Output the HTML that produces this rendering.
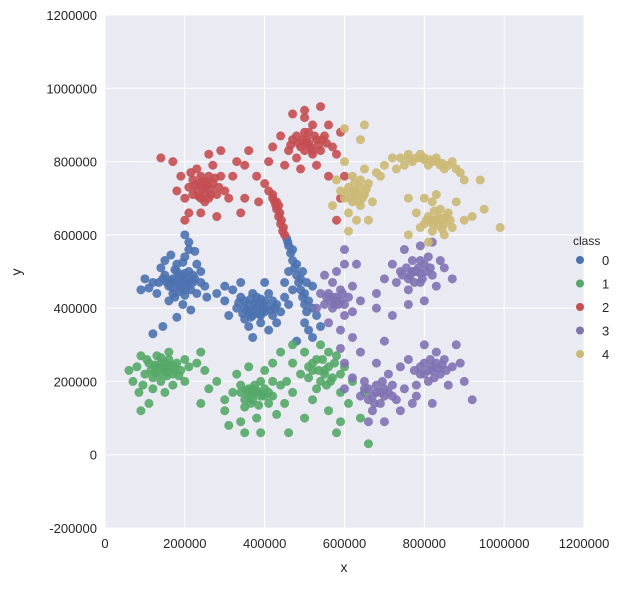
<!DOCTYPE html>
<html><head><meta charset="utf-8"><style>
body{margin:0;background:#fff;font-family:"Liberation Sans",sans-serif;}
svg text{font-family:"Liberation Sans",sans-serif;fill:#262626;}
</style></head><body>
<svg id="chart" width="623" height="585" xmlns="http://www.w3.org/2000/svg">
<rect x="105" y="15" width="479" height="513" fill="#EAEAF2"/>
<g id="grid"></g><g id="pts"></g><g id="ticks"></g>
<text x="344" y="572" font-size="14" text-anchor="middle">x</text>
<text x="21" y="272" font-size="14" text-anchor="middle" transform="rotate(-90 21 272)">y</text>
<g id="legend"><text x="573" y="245" font-size="12">class</text></g>
</svg>
<script>
const xTicks=[0,200000,400000,600000,800000,1000000,1200000];
const yTicks=[-200000,0,200000,400000,600000,800000,1000000,1200000];
const classes=["0","1","2","3","4"];
const colors=["#4C72B0","#55A868","#C44E52","#8172B2","#CCB974"];
// points in thousands
const class0=[190,470,170,480,200,450,210,500,180,520,160,460,220,470,150,490,230,440,200,540,175,430,140,510,240,500,195,410,120,470,210,560,165,545,250,460,185,490,205,480,230,520,160,420,130,440,100,480,90,450,255,430,215,395,180,375,145,350,120,330,200,600,210,580,175,505,195,525,220,490,170,455,185,445,240,470,150,530,225,555,
380,400,360,410,400,390,370,380,420,420,340,430,390,360,350,370,410,440,330,400,440,390,300,420,320,450,370,440,400,420,430,360,360,350,380,430,390,380,350,400,420,380,460,410,310,380,340,470,400,470,450,430,370,320,410,340,300,460,280,440,355,395,385,415,395,405,365,425,
455,590,460,570,465,550,470,530,475,510,480,490,485,470,490,450,495,430,500,410,505,390,470,560,458,580,480,520,490,480,500,440,510,420,520,400,530,380,470,450,500,360,510,340,540,350,520,320,480,310,460,500,505,470,495,500,450,470,520,460,
185,465,195,475,175,470,205,460,190,490,180,500,210,470,165,475,200,495,215,450,170,440,225,480,155,470,190,455,200,435,135,470,145,480,110,455,
370,395,385,385,395,395,375,410,360,390,405,405,415,395,350,420,365,375,390,425,345,385,425,400,335,415,430,410];
const class1=[150,230,130,240,170,220,160,260,120,210,180,250,140,200,110,250,190,230,100,220,160,280,130,270,200,260,80,240,70,200,90,270,60,230,170,190,210,240,150,170,120,180,200,200,240,280,230,250,140,250,155,215,175,240,125,225,95,190,85,170,110,140,90,120,
380,170,360,160,400,180,370,150,340,190,420,160,390,200,350,130,410,140,320,170,440,190,300,150,330,220,360,240,400,230,450,140,430,110,380,100,340,90,310,80,470,170,280,200,420,250,390,60,350,60,460,60,300,120,370,180,395,165,355,175,260,180,240,140,250,230,
550,230,520,250,570,210,540,200,600,240,580,270,510,210,560,280,530,180,620,200,590,170,500,280,470,250,490,220,610,140,640,100,590,90,560,120,520,150,470,300,540,300,650,170,660,30,580,60,500,100,455,200,440,280,530,260,
145,235,155,225,135,220,165,245,175,230,125,245,140,265,115,230,185,215,105,260,150,250,160,240,
380,175,370,165,390,160,360,180,400,160,350,150,375,190,410,170,340,170,365,140,420,200,385,135,
550,220,560,240,535,230,575,250,545,260,520,230,565,200,590,220,510,240,555,190];
const class2=[250,730,230,720,270,740,240,760,260,700,220,750,280,710,210,730,290,760,250,690,230,780,270,790,200,700,300,720,190,760,180,720,320,760,310,700,240,660,280,650,210,660,170,800,140,810,330,800,260,820,290,830,350,790,340,660,200,640,225,735,255,745,265,725,235,705,
510,850,490,840,530,860,500,880,470,860,540,830,520,900,480,810,550,870,460,830,500,920,440,870,570,840,530,790,490,780,420,840,560,900,580,820,450,790,410,800,470,930,500,940,540,950,590,880,360,830,380,760,600,760,560,760,520,820,505,860,
420,710,425,690,430,670,435,650,440,630,445,610,450,600,428,680,438,660,442,640,447,620,420,700,410,720,435,680,430,690,400,740,580,640,590,700,350,700,385,690,
245,725,255,735,235,740,265,710,245,745,220,710,275,755,240,700,260,760,215,770,285,730,250,710,
505,850,515,840,495,860,525,870,485,850,535,845,510,880,480,870,545,860,500,830,520,830,465,845,555,850];
const class3=[580,420,560,440,600,410,570,400,590,450,550,410,610,430,570,470,600,380,540,440,620,460,560,360,590,340,530,400,640,420,580,500,600,520,550,490,620,390,600,560,630,520,570,430,585,410,
780,500,760,480,800,520,770,530,790,470,740,500,820,490,760,450,810,540,730,470,850,510,720,520,790,570,830,460,700,480,680,440,870,480,760,410,800,420,750,560,820,580,840,530,770,500,790,495,680,400,720,380,
680,170,660,180,700,160,650,200,720,190,690,140,640,160,710,220,670,120,730,150,620,210,600,250,590,290,620,320,680,250,750,180,740,120,700,90,660,90,770,140,640,280,820,230,800,250,840,220,810,200,850,260,790,220,830,280,870,240,780,190,860,190,890,250,800,300,760,260,880,300,900,200,920,150,820,140,740,240,700,310,780,160,600,180,
775,500,785,510,765,490,795,480,755,510,805,500,775,470,790,530,745,490,815,510,
810,230,820,240,800,220,835,235,825,210,790,240,845,245,815,260,855,230,775,230,830,250,
690,170,670,160,700,180,680,190,660,150,710,170,675,140,695,200,650,180,720,160,
580,430,590,420,575,410,565,420,595,440,555,430];
const class4=[630,720,610,730,650,710,620,690,640,750,600,700,660,740,620,760,590,720,670,690,610,660,640,680,580,750,650,780,600,800,680,770,570,680,630,640,610,610,660,640,625,715,640,860,600,890,650,900,
720,810,740,810,760,820,780,810,800,810,820,800,840,790,860,790,880,780,770,800,790,820,810,790,750,790,830,810,850,780,700,790,690,760,730,780,870,800,890,770,900,750,940,750,
830,640,810,650,850,630,820,610,840,670,800,630,860,660,820,690,790,620,870,620,810,580,850,600,780,660,900,640,760,600,880,690,830,710,800,700,760,700,920,650,950,670,990,620,840,640,820,630,
630,710,620,720,640,730,615,700,645,700,625,740,655,725,605,715,635,690,
800,805,815,805,830,800,790,810,760,810,845,795,
835,650,825,640,845,645,815,640,835,625,855,650,805,640,825,665,845,615,865,640];
const series=[class0,class1,class2,class3,class4];
const NS="http://www.w3.org/2000/svg";
const X0=105,X1=584,Y0=528,Y1=15,xmin=0,xmax=1200000,ymin=-200000,ymax=1200000;
function sx(v){return X0+(v-xmin)/(xmax-xmin)*(X1-X0);}
function sy(v){return Y0-(v-ymin)/(ymax-ymin)*(Y0-Y1);}
function mk(t,a,p){const e=document.createElementNS(NS,t);for(const k in a)e.setAttribute(k,a[k]);p.appendChild(e);return e;}
const grid=document.getElementById('grid'),ticks=document.getElementById('ticks');
xTicks.forEach(v=>{const l=mk('line',{x1:sx(v),x2:sx(v),y1:Y1,y2:Y0,stroke:'#fff','stroke-width':1},grid);


const t=mk('text',{x:sx(v),y:Y0+20,'font-size':13,'text-anchor':'middle'},ticks);t.textContent=v;

});
yTicks.forEach(v=>{const l=mk('line',{x1:X0,x2:X1,y1:sy(v),y2:sy(v),stroke:'#fff','stroke-width':1},grid);


const t=mk('text',{x:X0-8,y:sy(v)+5,'font-size':13,'text-anchor':'end'},ticks);t.textContent=v;

});
const pts=document.getElementById('pts');
series.forEach((arr,ci)=>{for(let i=0;i<arr.length;i+=2){
const c=mk('circle',{cx:sx(arr[i]*1000),cy:sy(arr[i+1]*1000),r:4.5,fill:colors[ci],'fill-opacity':0.9},pts);

}});
const lg=document.getElementById('legend');
classes.forEach((c,i)=>{const y=260+i*23.5;
const m=mk('circle',{cx:580,cy:y,r:4,fill:colors[i]},lg);


const t=mk('text',{x:602,y:y+5,'font-size':13},lg);t.textContent=c;

});
</script>
</body></html>
